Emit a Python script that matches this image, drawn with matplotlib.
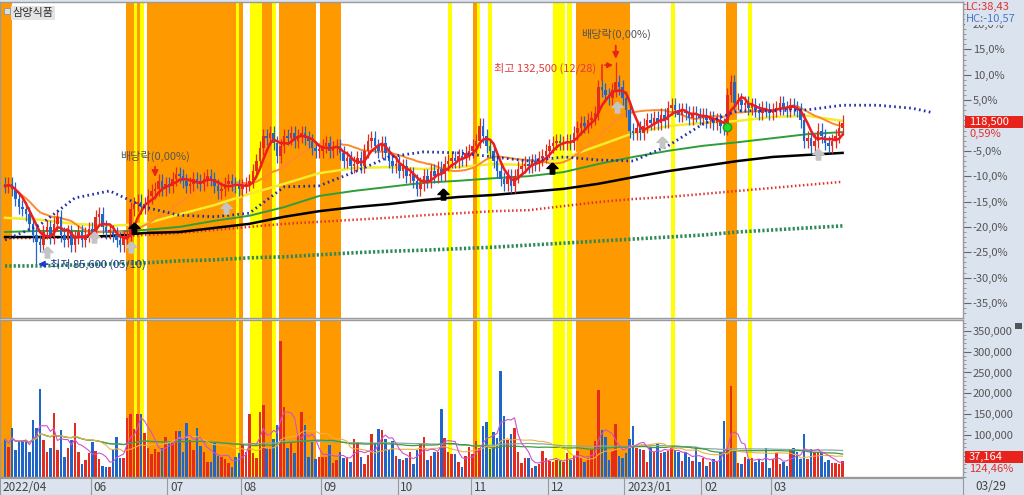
import numpy as np
import pandas as pd
import matplotlib
matplotlib.use("Agg")
import matplotlib.pyplot as plt
from matplotlib.patches import Rectangle
from matplotlib.ticker import MultipleLocator, FixedLocator, FuncFormatter

plt.rcParams['font.family'] = ['Noto Sans CJK KR', 'DejaVu Sans']

W, H = 1024, 495
PANEL = "#dbe3ee"
RED = "#e52a1e"
BLUE = "#2066c8"
ORANGE_BAND = "#ff9900"
YELLOW_BAND = "#ffff00"

# ---- data -------------------------------------------------------------
dates = pd.bdate_range("2022-04-27", "2023-03-29")   # 241 trading days

# close, % vs. reference price (right axis)
close_pct = np.array([
    -12.0, -11.5, -12.5, -14.5, -16.0, -16.5, -17.5, -19.5, -21.5, -23.0,
    -23.5, -21.0, -20.0, -22.0, -19.5, -18.0, -21.5, -22.5, -21.0, -23.5,
    -22.0, -21.0, -22.5, -21.5, -20.5, -21.0, -18.0, -17.5, -20.0, -21.0,
    -21.0, -21.5, -22.5, -23.5, -22.0, -22.0, -16.5, -15.5, -15.0, -16.0,
    -15.5, -14.0, -13.0, -12.5, -11.0, -12.5, -11.5, -12.0, -10.5, -9.5,
    -10.0, -11.0, -12.0, -11.5, -10.5, -11.0, -11.5, -10.5, -10.0, -10.5,
    -12.0, -13.0, -12.5, -11.5, -11.0, -11.5, -12.0, -12.5, -12.0, -11.5,
    -11.0, -9.0, -7.0, -4.5, -2.0, -2.5, -1.5, -3.5, -6.0, -4.0,
    -2.0, -2.5, -1.5, -3.0, -2.0, -1.5, -2.5, -3.0, -4.5, -5.0,
    -5.0, -4.0, -3.5, -5.0, -4.5, -4.0, -5.5, -7.0, -6.5, -8.0,
    -7.5, -6.5, -8.0, -5.0, -3.0, -2.5, -4.0, -5.0, -3.5, -5.5,
    -7.0, -8.0, -7.5, -9.0, -8.0, -10.0, -9.5, -11.0, -12.5, -11.5,
    -10.0, -11.0, -9.0, -10.0, -8.5, -9.5, -7.5, -7.0, -6.5, -7.0,
    -6.0, -6.5, -5.5, -5.0, -4.0, -3.0, 0.0, -2.0, -4.0, -5.0,
    -7.0, -9.0, -10.5, -11.5, -10.0, -12.0, -10.0, -8.5, -8.0, -7.5,
    -8.0, -7.0, -7.5, -6.5, -6.0, -5.0, -4.0, -3.5, -3.0, -3.5,
    -3.5, -3.0, -3.5, -1.5, -0.5, 0.5, 0.0, 1.0, 1.5, 2.5,
    7.5, 7.0, 6.0, 5.5, 7.0, 8.5, 7.5, 5.5, 3.0, -1.0,
    -1.5, -0.5, -1.5, 0.0, 1.0, 0.5, 1.5, 0.5, 2.0, 1.0,
    3.5, 4.0, 3.0, 2.0, 3.0, 2.5, 1.5, 2.5, 2.0, 1.5,
    2.0, 1.0, 1.5, 0.5, 1.0, 0.0, -0.5, 6.0, 8.5, 4.5,
    5.0, 4.0, 4.5, 3.5, 4.0, 3.0, 2.5, 3.5, 3.0, 2.5,
    3.0, 3.5, 4.5, 3.5, 3.0, 4.0, 3.5, 3.0, 1.0, -3.0,
    -2.5, -4.0, -3.0, -1.0, -2.0, -3.5, -4.0, -3.0, -2.0, -0.5, 0.59,
])

# volume, thousand shares
volume_k = np.array([
    90, 70, 117, 64, 83, 88, 88, 59, 136, 117,
    210, 88, 59, 69, 152, 64, 112, 47, 69, 88,
    128, 59, 30, 40, 56, 83, 61, 42, 25, 23,
    23, 64, 95, 44, 44, 140, 150, 114, 150, 150,
    104, 69, 54, 66, 59, 69, 95, 81, 81, 109,
    109, 59, 128, 88, 64, 117, 73, 59, 35, 35,
    81, 49, 47, 42, 33, 23, 47, 56, 76, 59,
    150, 56, 44, 155, 172, 69, 69, 90, 124, 325,
    167, 69, 81, 56, 100, 155, 124, 47, 83, 42,
    47, 47, 47, 76, 33, 40, 59, 44, 47, 35,
    90, 83, 47, 30, 52, 102, 81, 114, 112, 90,
    64, 85, 49, 42, 40, 44, 59, 30, 64, 81,
    95, 40, 49, 59, 59, 162, 92, 59, 54, 54,
    35, 23, 49, 71, 54, 85, 69, 121, 131, 66,
    107, 92, 253, 145, 88, 102, 117, 59, 33, 44,
    44, 20, 25, 30, 61, 44, 37, 35, 40, 38,
    35, 56, 40, 52, 61, 45, 35, 45, 64, 85,
    208, 112, 95, 40, 61, 126, 49, 44, 56, 90,
    121, 69, 66, 64, 35, 71, 59, 81, 56, 59,
    61, 71, 64, 59, 37, 59, 47, 37, 71, 35,
    44, 25, 35, 42, 35, 59, 133, 64, 218, 61,
    33, 30, 47, 42, 44, 35, 42, 35, 69, 20,
    42, 56, 30, 35, 25, 64, 69, 59, 42, 102,
    42, 66, 59, 59, 59, 35, 40, 33, 33, 30, 37.164,
])

# long averages, read every 10 bars
ma_idx = np.arange(0, 241, 10)
ma60 = [-18.2, -18.6, -19.4, -19.8, -19.4, -17.5, -15.7, -13.5, -11.5, -9.4, -8.4, -8.2, -8.6,
        -8.2, -7.6, -7.8, -6.4, -4.0, -1.5, -0.1, 0.5, 0.9, 1.7, 1.9, 0.9]
ma120 = [-21.0, -20.8, -20.8, -21.0, -20.6, -20.0, -18.8, -17.8, -16.1, -13.9, -12.9, -12.1, -11.3,
         -10.9, -10.4, -10.0, -9.2, -7.6, -6.2, -5.0, -4.0, -3.3, -2.5, -1.7, -1.3]
ma240 = [-22.0, -22.0, -22.0, -21.8, -21.2, -21.0, -20.2, -19.4, -18.0, -16.9, -16.1, -15.5, -14.7,
         -14.1, -13.7, -13.1, -12.5, -11.5, -10.2, -9.0, -8.0, -7.0, -6.2, -5.8, -5.4]
red_dot = [-22.2, -22.2, -22.0, -22.0, -21.6, -21.2, -20.6, -20.0, -19.4, -19.0, -18.6, -18.2, -17.7,
           -17.3, -16.9, -16.7, -15.9, -15.1, -14.5, -14.1, -13.5, -12.9, -12.3, -11.7, -11.1]
green_dot = [-27.7, -27.7, -27.5, -27.3, -27.1, -26.7, -26.5, -26.1, -25.9, -25.5, -25.1, -24.8, -24.6,
             -24.3, -24.0, -23.6, -23.2, -22.8, -22.4, -22.0, -21.6, -21.0, -20.6, -20.2, -19.8]
# leading span, runs 26 bars past the last candle
span_idx = list(range(0, 261, 10)) + [266]
span_vals = [-22.6, -19.6, -14.3, -12.9, -16.1, -17.7, -18.0, -17.3, -12.1, -11.9, -9.2, -6.2, -5.2,
             -5.4, -6.2, -7.0, -6.2, -6.8, -7.0, -4.0, 0.3, 2.9, 2.9, 3.1, 4.0, 4.0, 3.4, 2.5]

# signal periods (bar index ranges)
orange_spans = [(-1.5, 2.0), (34.7, 37.0), (37.8, 38.7), (40.7, 66.2), (67.0, 68.2), (73.6, 76.5),
                (78.5, 89.1), (90.3, 96.3), (134.1, 135.2), (163.6, 179.1), (206.6, 209.7)]
yellow_spans = [(37.0, 37.8), (38.7, 39.8), (66.2, 67.0), (70.2, 73.6), (76.5, 77.7), (126.9, 128.1),
                (135.2, 136.1), (138.4, 139.5), (157.0, 160.5), (161.0, 162.5), (190.8, 192.0),
                (212.9, 214.0)]

black_sig = [(37, -20.2), (125.5, -13.5), (156.7, -8.4)]
gray_sig = [(12, -25.0), (25.5, -22.0), (36.1, -24.0), (63.3, -16.3), (175.4, 3.6), (188.3, -3.3),
            (233, -5.6)]
green_sig = [(207, -0.3)]
dividend_days = ["2022-06-27", "2022-12-28"]

last_price = 118500
ref_price = last_price / (1 + close_pct[-1] / 100)
hi_idx = dates.get_loc(pd.Timestamp("2022-12-28"))
lo_idx = dates.get_loc(pd.Timestamp("2022-05-10"))

n = len(close_pct)
idx = np.arange(n)
open_pct = np.r_[close_pct[0] + 0.5, close_pct[:-1]]
high_pct = np.maximum(open_pct, close_pct) + 1.4
low_pct = np.minimum(open_pct, close_pct) - 1.4
high_pct[hi_idx] = (132500 / ref_price - 1) * 100
low_pct[lo_idx] = (85600 / ref_price - 1) * 100
up = close_pct >= open_pct
colors = np.where(up, RED, BLUE)
volume = volume_k * 1000

ma5 = pd.Series(close_pct).rolling(5, min_periods=1).mean()
ma20 = pd.Series(close_pct).rolling(20, min_periods=1).mean()
vs = pd.Series(volume)
vma = {5: vs.rolling(5, min_periods=1).mean(), 20: vs.rolling(20, min_periods=1).mean(),
       60: vs.rolling(60, min_periods=1).mean(), 120: vs.rolling(120, min_periods=1).mean()}


# ---- layout -----------------------------------------------------------
def fx(px):
    return px / W


def fy(py):
    return 1 - py / H


PX_BAR = 3.49
XLIM = (-5 / PX_BAR, (963 - 5) / PX_BAR)

fig = plt.figure(figsize=(W / 100, H / 100), dpi=100, facecolor=PANEL)
ax = fig.add_axes([0, fy(318), fx(963), fy(2) - fy(318)])
axv = fig.add_axes([0, fy(477), fx(963), fy(320) - fy(477)])
axd = fig.add_axes([0, 0, fx(963), fy(478)])

for a in (ax, axv):
    a.set_facecolor("white")
    a.set_xlim(*XLIM)
    for s in a.spines.values():
        s.set_color("#9a9a9a")
        s.set_linewidth(1.0)
    a.tick_params(axis="x", bottom=False, labelbottom=False)
    a.yaxis.tick_right()
    a.tick_params(axis="y", which="major", direction="out", length=6, width=0.8,
                  colors="#666666", labelsize=8, pad=1)
    a.tick_params(axis="y", which="minor", direction="out", length=2.5, width=0.6, colors="#888888")
    for x0, x1 in orange_spans:
        a.axvspan(x0, x1, color=ORANGE_BAND, lw=0, zorder=0)
    for x0, x1 in yellow_spans:
        a.axvspan(x0, x1, color=YELLOW_BAND, lw=0, zorder=0)

# ---- price panel ------------------------------------------------------
ax.set_ylim(-(318 - 125.5) / 5.07, (125.5 - 2) / 5.07)
ax.yaxis.set_major_locator(FixedLocator(np.arange(-35, 21, 5)))
ax.yaxis.set_minor_locator(MultipleLocator(1))
# the 0% label sits under the current-price box
ax.yaxis.set_major_formatter(FuncFormatter(
    lambda v, p: "" if abs(v) < 1e-9 else f"{v:.1f}%".replace(".", ",")))
for lab in ax.get_yticklabels():
    lab.set_color("#555555")

ax.plot(ma_idx, green_dot, color="#2e8b57", lw=2.6, ls=(0, (0.6, 0.6)), zorder=2)
ax.plot(ma_idx, red_dot, color="#e03030", lw=1.8, ls=(0, (0.6, 1.0)), zorder=2)
ax.plot(ma_idx, ma240, color="black", lw=1.8, zorder=2)
ax.plot(ma_idx, ma120, color="#2f9e3a", lw=1.4, zorder=2)
ax.plot(ma_idx, ma60, color="#f4ec2c", lw=1.8, zorder=2)
ax.plot(idx, ma20, color="#ff8a2a", lw=1.4, zorder=3)

ax.vlines(idx, low_pct, high_pct, colors=colors, lw=0.9, zorder=4)
body = np.maximum(np.abs(close_pct - open_pct), 0.3)
ax.bar(idx, body, bottom=np.minimum(open_pct, close_pct), width=0.72, color=colors, lw=0, zorder=4)
ax.plot(idx, ma5, color="#ee1c1c", lw=1.8, zorder=5)
ax.plot(span_idx, span_vals, color="#1f2fa8", lw=2.0, ls=(0, (0.6, 1.2)), zorder=5)

ARROW = [(0, 1), (-1, 0), (-0.4, 0), (-0.4, -1), (0.4, -1), (0.4, 0), (1, 0), (0, 1)]
for x, y in gray_sig:
    ax.plot(x, y, marker=ARROW, ms=8, color="#c4c4c4", mec="#c4c4c4", zorder=6)
for x, y in black_sig:
    ax.plot(x, y, marker=ARROW, ms=8, color="black", zorder=6)
for x, y in green_sig:
    ax.plot(x, y, marker="o", ms=6, color="#22dd22", mec="#1aa01a", zorder=6)

# dividend marks
for d, (tip, tail, ty) in zip(dividend_days, [(-10.7, -7.6, -6.1), (12.6, 16.3, 17.9)]):
    i = dates.get_indexer([pd.Timestamp(d)], method="nearest")[0]
    ax.annotate("", xy=(i, tip), xytext=(i, tail),
                arrowprops=dict(arrowstyle="-|>", color="#e8231b", lw=1.3, mutation_scale=9),
                zorder=7)
    ax.text(i, ty, "배당락(0,00%)", ha="center", va="center", fontsize=8, color="#555555", zorder=7)

# highest / lowest
hi_y = 11.9
ax.plot([hi_idx - 4, hi_idx - 4], [hi_y - 3.0, hi_y], color="#e8231b", lw=1.1, zorder=7)
ax.annotate("", xy=(hi_idx, hi_y), xytext=(hi_idx - 4, hi_y),
            arrowprops=dict(arrowstyle="-|>", color="#e8231b", lw=1.1, mutation_scale=8), zorder=7)
ax.text(hi_idx - 5.5, hi_y - 0.6, "최고 132,500 (12/28)", ha="right", va="center",
        fontsize=8, color="#e03c3c", zorder=7)
lo_y = low_pct[lo_idx]
ax.annotate("최저 85,600 (05/10)", xy=(lo_idx + 0.5, lo_y), xytext=(lo_idx + 4, lo_y),
            ha="left", va="center", fontsize=8, color="#1e3a8a",
            arrowprops=dict(arrowstyle="-|>", color="#1e3ad0", lw=1.2, mutation_scale=9,
                            shrinkA=0, shrinkB=0), zorder=7)

ax.text(0.013, 0.965, "삼양식품", transform=ax.transAxes, fontsize=8, color="#333333",
        ha="left", va="center", zorder=8,
        bbox=dict(boxstyle="square,pad=0.15", fc="#e4e4e4", ec="none"))
fig.add_artist(Rectangle((fx(4), fy(14)), fx(6), 6 / H, transform=fig.transFigure,
                         fc="#dddddd", ec="#999999", lw=0.7))

# ---- volume panel -----------------------------------------------------
axv.bar(idx, volume, width=0.72, color=colors, lw=0, zorder=2)
for k, c, lw in [(120, "#88aaa4", 0.9), (60, "#3c9c3c", 0.9), (20, "#f0b040", 0.8), (5, "#d050d0", 0.8)]:
    axv.plot(idx, vma[k], color=c, lw=lw, zorder=3)
axv.set_ylim(-1200, 376200)
axv.yaxis.set_major_locator(FixedLocator(np.arange(50000, 350001, 50000)))
axv.yaxis.set_minor_locator(MultipleLocator(10000))
axv.yaxis.set_major_formatter(FuncFormatter(lambda v, p: f"{v:,.0f}"))
for lab in axv.get_yticklabels():
    lab.set_color("#555555")

# ---- date strip -------------------------------------------------------
axd.set_facecolor(PANEL)
axd.set_xlim(*XLIM)
axd.set_ylim(0, 1)
axd.set_xticks([])
axd.set_yticks([])
for s in axd.spines.values():
    s.set_color("#9a9a9a")
month_first = pd.Series(idx, index=dates).groupby([dates.year, dates.month]).min()
for (yr, mo), i in month_first.items():
    if i == 0:
        axd.text(-0.7, 0.45, f"{yr}/{mo:02d}", fontsize=8.5, color="#444444", va="center")
        continue
    if i < 10:
        continue
    axd.axvline(i - 0.5, color="#9a9a9a", lw=0.8)
    label = f"{yr}/{mo:02d}" if mo == 1 else f"{mo:02d}"
    axd.text(i + 0.3, 0.45, label, fontsize=8.5, color="#444444", va="center")

# ---- right panel boxes ------------------------------------------------
fig.text(fx(966), fy(7), "LC:38,43", fontsize=8, color="#e03030", va="center")
fig.text(fx(966), fy(19), "HC:-10,57", fontsize=8, color="#4a78c8", va="center",
         bbox=dict(boxstyle="square,pad=0.1", fc=PANEL, ec="none"))
for top, txt, sub in [(116, f"{last_price:,}", f"{close_pct[-1]:.2f}%".replace(".", ",")),
                      (451, f"{volume[-1]:,.0f}", "124,46%")]:
    fig.add_artist(Rectangle((fx(965), fy(top + 12)), fx(58), 12 / H,
                             transform=fig.transFigure, fc="#e8231b", ec="none", zorder=10))
    fig.text(fx(969), fy(top + 6), txt, fontsize=8, color="white", va="center", zorder=11)
    fig.text(fx(969), fy(top + 18), sub, fontsize=8, color="#e03030", va="center", zorder=11)
fig.add_artist(Rectangle((fx(1015), fy(329)), fx(7), 6 / H, transform=fig.transFigure,
                         fc="#555555", ec="none"))
fig.text(fx(975), fy(487), "03/29", fontsize=8.5, color="#444444", va="center")

fig.savefig("out.png", dpi=100, facecolor=PANEL)
